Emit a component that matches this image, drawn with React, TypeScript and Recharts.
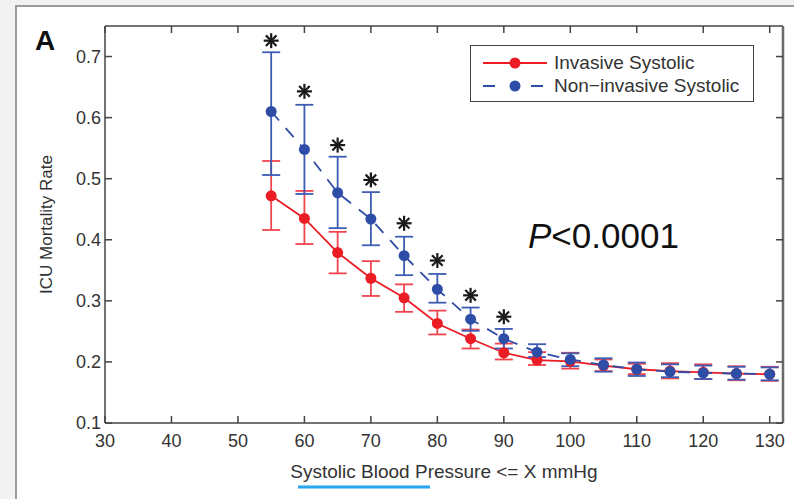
import React from 'react';
import { ComposedChart, Line, XAxis, YAxis, ErrorBar, Legend } from 'recharts';

// Systolic blood pressure thresholds (mmHg)
const pressures = [55, 60, 65, 70, 75, 80, 85, 90, 95, 100, 105, 110, 115, 120, 125, 130];

// Invasive systolic: ICU mortality rate and 95% CI
const invasiveMean = [0.472, 0.435, 0.379, 0.337, 0.305, 0.263, 0.238, 0.215, 0.203, 0.201, 0.194, 0.188, 0.185, 0.183, 0.181, 0.180];
const invasiveLower = [0.416, 0.393, 0.345, 0.308, 0.282, 0.245, 0.222, 0.204, 0.195, 0.189, 0.185, 0.180, 0.173, 0.172, 0.170, 0.169];
const invasiveUpper = [0.529, 0.480, 0.413, 0.365, 0.327, 0.284, 0.253, 0.230, 0.216, 0.215, 0.204, 0.197, 0.198, 0.196, 0.193, 0.192];

// Non-invasive systolic: ICU mortality rate and 95% CI
const noninvasiveMean = [0.610, 0.548, 0.477, 0.434, 0.374, 0.319, 0.270, 0.238, 0.216, 0.204, 0.195, 0.188, 0.184, 0.182, 0.181, 0.180];
const noninvasiveLower = [0.506, 0.475, 0.419, 0.391, 0.342, 0.297, 0.251, 0.222, 0.208, 0.193, 0.184, 0.177, 0.175, 0.172, 0.171, 0.170];
const noninvasiveUpper = [0.707, 0.621, 0.536, 0.478, 0.405, 0.344, 0.289, 0.254, 0.229, 0.214, 0.206, 0.199, 0.196, 0.194, 0.192, 0.191];

// Significance markers (asterisks) above the first thresholds
const starLevels = [0.726, 0.643, 0.555, 0.498, 0.427, 0.366, 0.309, 0.274];

const xTicks = [30, 40, 50, 60, 70, 80, 90, 100, 110, 120, 130];
const yTicks = [0.1, 0.2, 0.3, 0.4, 0.5, 0.6, 0.7];

const seriesNames = ['Invasive Systolic', 'Non\u2212invasive Systolic'];
const xLabel = 'Systolic Blood Pressure <= X mmHg';
const yLabel = 'ICU Mortality Rate';
const panelLabel = 'A';
const pText = '<0.0001';

const RED = '#ec1c24';
const RED_ERR = '#f0454e';
const BLUE = '#2e4da6';
const BLUE_ERR = '#3d5cb3';
const AXIS = '#444';
const TEXT = '#333';
const FONT = '"Liberation Sans", Arial, Helvetica, sans-serif';

const data = pressures.map((p, i) => ({
  x: p,
  inv: invasiveMean[i],
  invErr: [invasiveMean[i] - invasiveLower[i], invasiveUpper[i] - invasiveMean[i]],
  non: noninvasiveMean[i],
  nonErr: [noninvasiveMean[i] - noninvasiveLower[i], noninvasiveUpper[i] - noninvasiveMean[i]],
  star: i < starLevels.length ? starLevels[i] : null,
}));

const renderStar = (props: any) => {
  const { cx, cy, index } = props;
  if (cx == null || cy == null || props.value == null) return <g key={`s${index}`} />;
  const r = 7.5;
  const d = r * Math.SQRT1_2;
  return (
    <g key={`s${index}`} stroke="#1a1a1a" strokeWidth={2.2}>
      <line x1={cx - r} y1={cy} x2={cx + r} y2={cy} />
      <line x1={cx} y1={cy - r} x2={cx} y2={cy + r} />
      <line x1={cx - d} y1={cy - d} x2={cx + d} y2={cy + d} />
      <line x1={cx - d} y1={cy + d} x2={cx + d} y2={cy - d} />
    </g>
  );
};

const LegendBox = () => (
  <div
    style={{
      width: 284,
      height: 57,
      border: '1.5px solid #444',
      background: '#fff',
      boxSizing: 'border-box',
      fontFamily: FONT,
      fontSize: 19,
      color: TEXT,
      position: 'relative',
    }}
  >
    {[0, 1].map((k) => (
      <div key={k} style={{ position: 'absolute', left: 0, top: k === 0 ? 6 : 29, height: 22, display: 'flex', alignItems: 'center' }}>
        <svg width={83} height={22} style={{ display: 'block' }}>
          {k === 0 ? (
            <line x1={12} x2={76} y1={11} y2={11} stroke={RED} strokeWidth={1.8} />
          ) : (
            <line x1={12} x2={74} y1={11} y2={11} stroke={BLUE} strokeWidth={1.8} strokeDasharray="12 36 12" />
          )}
          <circle cx={44} cy={11} r={5.5} fill={k === 0 ? RED : BLUE} />
        </svg>
        <span style={{ whiteSpace: 'nowrap' }}>{seriesNames[k]}</span>
      </div>
    ))}
  </div>
);

export default function App() {
  return (
    <div style={{ position: 'absolute', left: 0, top: 0, width: 794, height: 499, background: '#f2f2f2', overflow: 'hidden' }}>
      <div
        style={{
          position: 'absolute',
          left: 15,
          top: 5,
          width: 794,
          height: 499,
          background: '#fff',
          borderLeft: '2px solid #9c9c9c',
          borderTop: '2px solid #9c9c9c',
        }}
      />
      <div style={{ position: 'absolute', left: 0, top: 0 }}>
        <ComposedChart
          width={794}
          height={499}
          data={data}
          margin={{ top: 24, right: 9, bottom: 36, left: 40 }}
          style={{ fontFamily: FONT }}
        >
          <XAxis
            dataKey="x"
            type="number"
            domain={[30, 132]}
            allowDataOverflow
            ticks={xTicks}
            interval={0}
            height={40}
            tickSize={-7}
            tickMargin={18}
            fontSize={18}
            axisLine={{ stroke: AXIS, strokeWidth: 1.5 }}
            tickLine={{ stroke: AXIS, strokeWidth: 1.5 }}
            tick={{ fill: TEXT, fontSize: 18 }}
            label={{ value: xLabel, position: 'bottom', offset: 2, fill: TEXT, fontSize: 19 }}
          />
          <XAxis
            xAxisId="top"
            dataKey="x"
            orientation="top"
            type="number"
            domain={[30, 132]}
            allowDataOverflow
            ticks={xTicks}
            interval={0}
            height={2}
            tickSize={-7}
            tickFormatter={() => ''}
            axisLine={{ stroke: AXIS, strokeWidth: 1.5 }}
            tickLine={{ stroke: AXIS, strokeWidth: 1.5 }}
          />
          <YAxis
            type="number"
            domain={[0.1, 0.75]}
            allowDataOverflow
            ticks={yTicks}
            interval={0}
            width={65}
            tickSize={-7}
            tickMargin={11}
            fontSize={18}
            tickFormatter={(v: number) => v.toFixed(1)}
            axisLine={{ stroke: AXIS, strokeWidth: 1.5 }}
            tickLine={{ stroke: AXIS, strokeWidth: 1.5 }}
            tick={{ fill: TEXT, fontSize: 18 }}
            label={{ value: yLabel, angle: -90, position: 'insideLeft', offset: 6, fill: TEXT, fontSize: 17, style: { textAnchor: 'middle' } }}
          />
          <YAxis
            yAxisId="right"
            orientation="right"
            type="number"
            domain={[0.1, 0.75]}
            allowDataOverflow
            ticks={yTicks}
            interval={0}
            width={2}
            tickSize={-7}
            tickFormatter={() => ''}
            axisLine={{ stroke: '#6a6a6a', strokeWidth: 2.5 }}
            tickLine={{ stroke: AXIS, strokeWidth: 1.5 }}
          />
          <Legend
            layout="vertical"
            align="center"
            verticalAlign="middle"
            wrapperStyle={{ left: 470, top: 45, width: 284, height: 57 }}
            content={() => <LegendBox />}
          />
          <Line
            dataKey="inv"
            name={seriesNames[0]}
            stroke={RED}
            strokeWidth={1.8}
            dot={{ r: 5.5, fill: RED, stroke: RED, strokeWidth: 0 }}
            activeDot={false}
            isAnimationActive={false}
          >
            <ErrorBar dataKey="invErr" direction="y" width={9} stroke={RED_ERR} strokeWidth={1.8} />
          </Line>
          <Line
            dataKey="non"
            name={seriesNames[1]}
            stroke={BLUE}
            strokeWidth={1.8}
            strokeDasharray="12 10"
            dot={{ r: 5.5, fill: BLUE, stroke: BLUE, strokeWidth: 0 }}
            activeDot={false}
            isAnimationActive={false}
          >
            <ErrorBar dataKey="nonErr" direction="y" width={9} stroke={BLUE_ERR} strokeWidth={1.8} />
          </Line>
          <Line
            xAxisId="top"
            yAxisId="right"
            dataKey="star"
            stroke="none"
            dot={renderStar}
            activeDot={false}
            legendType="none"
            isAnimationActive={false}
          />
        </ComposedChart>
      </div>
      <svg width={794} height={499} style={{ position: 'absolute', left: 0, top: 0, pointerEvents: 'none' }}>
        <text x={35} y={50} fontFamily={FONT} fontSize={28} fontWeight="bold" fill="#111">{panelLabel}</text>
        <text x={528} y={248} fontFamily={FONT} fontSize={35} fill="#111">
          <tspan fontStyle="italic">P</tspan>
          {pText}
        </text>
        <line x1={298} x2={430} y1={487} y2={487} stroke="#27a6f0" strokeWidth={3} />
      </svg>
    </div>
  );
}
